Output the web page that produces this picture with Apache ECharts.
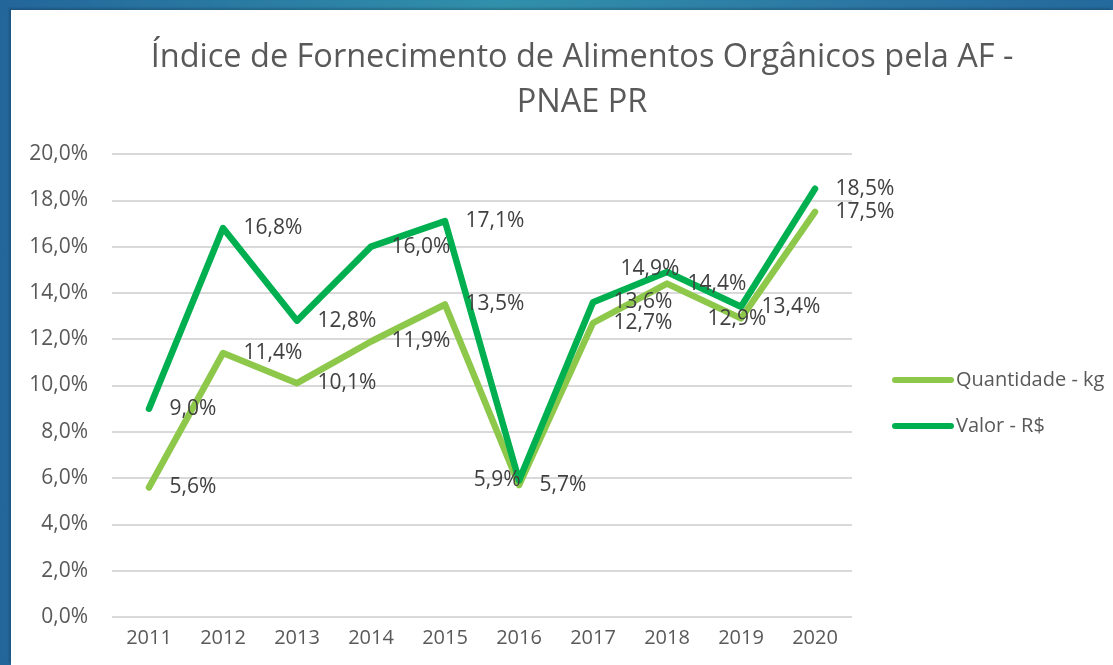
<!DOCTYPE html>
<html>
<head>
<meta charset="utf-8">
<title>PNAE PR</title>
<script src="https://cdn.jsdelivr.net/npm/echarts@6/dist/echarts.min.js"></script>
<style>
  html, body { margin: 0; padding: 0; }
  body {
    width: 1113px; height: 665px; overflow: hidden; position: relative;
    background: linear-gradient(90deg, #23669a 0%, #3190ab 45%, #2b74a2 80%, #246a9c 100%);
  }
  #chart {
    position: absolute; left: 11px; top: 10px; width: 1102px; height: 655px;
    background: #ffffff;
    box-shadow: -2px -2px 2px rgba(0, 0, 0, 0.18);
  }
</style>
</head>
<body>
<div id="chart"></div>
<script>
var titleText = 'Índice de Fornecimento de Alimentos Orgânicos pela AF -\nPNAE PR';
var years = ['2011', '2012', '2013', '2014', '2015', '2016', '2017', '2018', '2019', '2020'];
var quantidadeKg = [5.6, 11.4, 10.1, 11.9, 13.5, 5.7, 12.7, 14.4, 12.9, 17.5];
var valorRS = [9.0, 16.8, 12.8, 16.0, 17.1, 5.9, 13.6, 14.9, 13.4, 18.5];
var seriesNames = ['Quantidade - kg', 'Valor - R$'];

// posições de rótulos movidas à mão no gráfico original
var quantLabelFix = {
    8: { position: 'inside', offset: [-4, 1] }
};
var valorLabelFix = {
    5: { position: 'left', distance: -2 },
    7: { position: 'inside', offset: [-17, -3] }
};

function fmtPct(v) {
    return v.toFixed(1).replace('.', ',') + '%';
}

function build_data(values, fix) {
    return values.map(function (v, i) {
        var item = { value: v };
        if (fix[i]) {
            item.label = fix[i];
        }
        return item;
    });
}

function line_series(name, values, fix, color) {
    return {
        name: name,
        type: 'line',
        data: build_data(values, fix),
        symbol: 'circle',
        symbolSize: 1,
        showSymbol: true,
        itemStyle: { color: color },
        lineStyle: { color: color, width: 6.5, cap: 'round', join: 'round' },
        label: {
            show: true,
            position: 'right',
            distance: 20,
            color: '#404040',
            fontFamily: 'Open Sans',
            fontSize: 21,
            formatter: function (p) { return fmtPct(p.value); }
        },
        emphasis: { disabled: true },
        animation: false
    };
}

var myChart = echarts.init(document.getElementById('chart'));
var option = {
    animation: false,
    title: {
        text: titleText,
        left: 566,
        top: 20,
        textAlign: 'center',
        textStyle: {
            color: '#595959',
            fontFamily: 'Open Sans',
            fontWeight: 'normal',
            fontSize: 32.5,
            lineHeight: 45
        }
    },
    legend: {
        orient: 'vertical',
        left: 876,
        top: 354,
        itemWidth: 56,
        itemHeight: 6,
        itemGap: 24,
        data: seriesNames,
        lineStyle: { width: 6, cap: 'round' },
        textStyle: {
            color: '#595959',
            fontFamily: 'Open Sans',
            fontSize: 20,
            lineHeight: 22
        }
    },
    grid: {
        left: 101,
        top: 144,
        width: 740,
        height: 463,
        outerBoundsMode: 'none'
    },
    xAxis: {
        type: 'category',
        data: years,
        boundaryGap: true,
        axisLine: { show: false },
        axisTick: { show: false },
        axisLabel: {
            color: '#595959',
            fontFamily: 'Open Sans',
            fontSize: 20,
            margin: 11
        }
    },
    yAxis: {
        type: 'value',
        min: 0,
        max: 20,
        interval: 2,
        axisLine: { show: false },
        axisTick: { show: false },
        axisLabel: {
            color: '#595959',
            fontFamily: 'Open Sans',
            fontSize: 21,
            margin: 24,
            formatter: fmtPct
        },
        splitLine: { lineStyle: { color: '#d9d9d9', width: 2 } }
    },
    series: [
        line_series(seriesNames[0], quantidadeKg, quantLabelFix, '#8DC84B'),
        line_series(seriesNames[1], valorRS, valorLabelFix, '#00B050')
    ]
};
myChart.setOption(option);
</script>
</body>
</html>
